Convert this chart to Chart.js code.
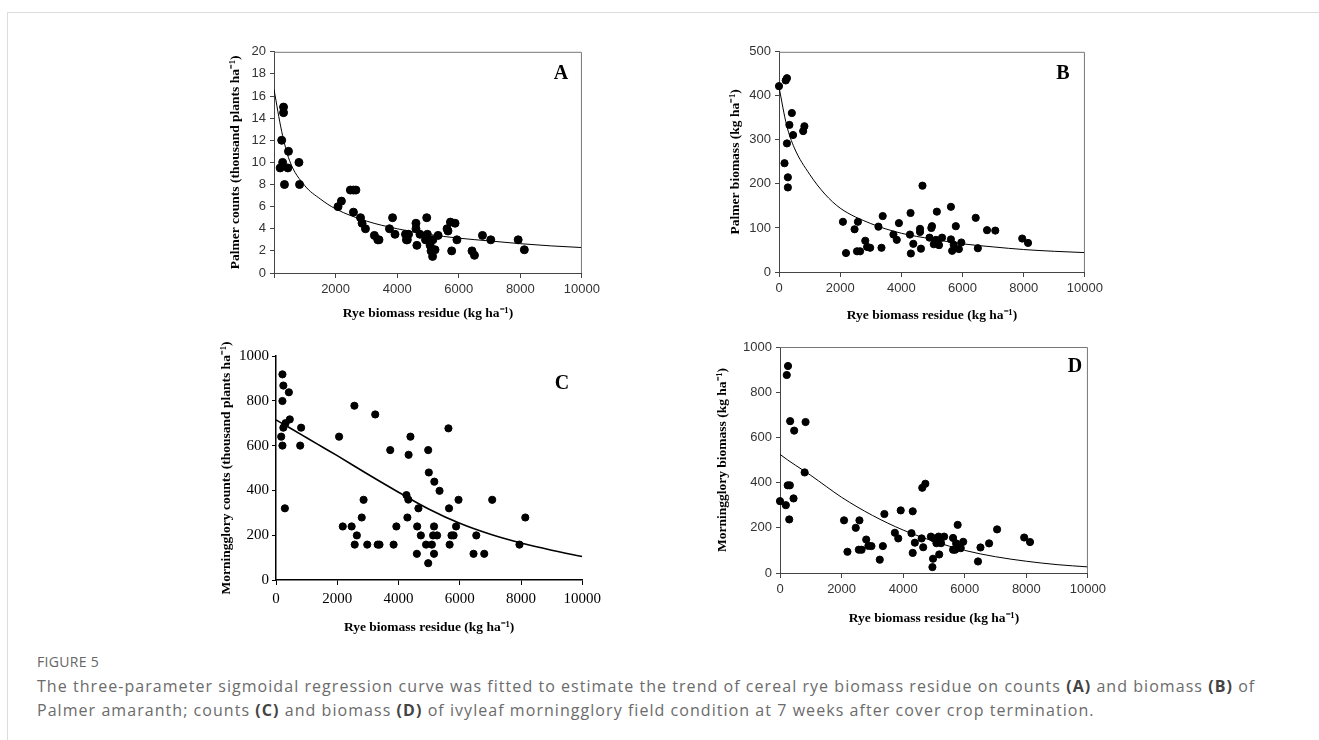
<!DOCTYPE html>
<html>
<head>
<meta charset="utf-8">
<script src="https://cdn.jsdelivr.net/npm/chart.js@4"></script>
<style>
  body { margin: 0; background: #fff; width: 1319px; height: 740px; overflow: hidden; position: relative; }
  .frame { position: absolute; left: 7px; top: 12px; width: 1400px; height: 800px; border: 1px solid #dcdcdc; }
  canvas { position: absolute; }
  .tag { position: absolute; font: bold 20px "Liberation Serif", "Times New Roman", serif; color: #000; transform: translate(-50%, -50%); }
  .fig { position: absolute; left: 37px; top: 652px; font: 14px "Open Sans", sans-serif; color: #666; letter-spacing: 0.3px; }
  .cap { position: absolute; left: 37px; top: 674px; font: 16px/24px "Open Sans", sans-serif; color: #6b6b6b; white-space: nowrap; letter-spacing: 1.05px; }
  .cap b { color: #444; }
</style>
</head>
<body>
<div class="frame"></div>
<canvas id="panelA" width="389" height="290" style="left:215px;top:40px"></canvas>
<canvas id="panelB" width="392" height="290" style="left:715px;top:40px"></canvas>
<canvas id="panelC" width="401" height="325" style="left:205px;top:320px"></canvas>
<canvas id="panelD" width="407" height="315" style="left:703px;top:320px"></canvas>
<div class="tag" style="left:561px;top:72px">A</div>
<div class="tag" style="left:1063px;top:72px">B</div>
<div class="tag" style="left:562px;top:382px">C</div>
<div class="tag" style="left:1075px;top:365px">D</div>
<div class="fig">FIGURE 5</div>
<div class="cap">The three-parameter sigmoidal regression curve was fitted to estimate the trend of cereal rye biomass residue on counts <b>(A)</b> and biomass <b>(B)</b> of<br>Palmer amaranth; counts <b>(C)</b> and biomass <b>(D)</b> of ivyleaf morningglory field condition at 7 weeks after cover crop termination.</div>
<script>
// observed plots: rye residue (kg/ha) vs weed response
var aRye = [200,250,280,310,310,340,450,470,810,830,2080,2190,2480,2580,2660,2580,2810,2860,2970,3260,3370,3410,3750,3850,3930,4270,4300,4330,4370,4610,4610,4640,4740,4920,4960,4980,5000,5070,5100,5150,5160,5230,5330,5620,5650,5730,5770,5880,5940,6430,6510,6770,7040,7930,8130];
var aCounts = [9.5,12,10,15,14.5,8,9.5,11,10,8,6,6.5,7.5,7.5,7.5,5.5,5,4.5,4,3.4,3,3,4,5,3.5,3.5,3,3,3.5,4.5,4,2.5,3.5,3,5,3.5,3,2.5,2,1.5,3,2.1,3.4,4,3.8,4.6,2,4.5,3,2,1.6,3.4,3,3,2.1];

var bRye = [0,220,260,420,340,460,260,180,290,290,790,830,2090,2190,2470,2580,2550,2650,2820,2880,2980,3250,3350,3390,3740,3850,3920,4280,4300,4310,4390,4610,4610,4640,4690,4920,4980,5000,5060,5130,5160,5190,5230,5330,5620,5620,5660,5710,5780,5880,5960,6430,6500,6800,7070,7950,8140];
var bBiomass = [422,435,440,361,334,311,292,247,215,192,320,331,114,43,97,114,47,47,71,57,55,103,55,127,85,73,111,85,134,42,64,98,91,53,196,78,100,104,63,73,137,67,61,78,148,74,48,62,104,52,67,123,54,95,94,76,66];

var cRye = [210,240,210,420,450,310,240,170,210,290,820,790,2060,2180,2470,2560,2570,2640,2800,2860,2980,3240,3320,3380,3730,3840,3930,4260,4290,4320,4330,4390,4600,4610,4650,4730,4900,4970,4970,4990,5090,5130,5160,5160,5170,5260,5340,5630,5650,5670,5730,5800,5880,5960,6450,6540,6800,7060,7950,8140];
var cCounts = [918,868,799,838,717,700,680,640,600,320,680,600,640,239,239,778,158,199,279,358,158,739,158,158,580,158,239,379,279,359,559,640,117,239,320,199,158,580,75,480,158,199,117,239,439,199,398,677,320,158,199,199,239,358,117,199,117,358,158,279];

var dRye = [0,190,220,260,250,320,300,330,440,460,800,830,2080,2190,2460,2580,2560,2650,2800,2870,2970,3240,3340,3390,3730,3840,3920,4270,4310,4310,4380,4600,4620,4720,4650,4900,4970,4950,5000,5080,5150,5170,5140,5230,5330,5620,5620,5690,5720,5770,5870,5950,6430,6510,6790,7050,7930,8120];
var dBiomass = [318,300,876,916,388,388,237,672,330,630,445,668,233,94,200,233,103,103,148,120,119,59,119,261,178,153,277,176,273,89,134,153,377,395,114,161,63,26,153,132,161,82,147,132,161,155,103,103,131,213,110,138,51,113,131,193,157,137];

// fitted curves
var curveRye = [0,250,500,1000,1500,2000,3000,4000,5000,6000,7000,8000,9000,10000];
var aFit = [16.6,12.8,10.2,7.9,6.7,5.8,4.7,4.0,3.5,3.15,2.9,2.65,2.45,2.3];
var bFit = [420,333,282,222,177,145,110,88,75,64,57,51,47,44];
var cFit = [715,695,675,635,595,555,472,392,316,253,204,165,133,105];
var dFit = [525,500,477,432,383,335,255,190,140,100,72,52,37,27];

var serif = '"Liberation Serif", "Times New Roman", serif';
var sans = '"Liberation Sans", Arial, sans-serif';

var boxLines = {
  id: 'boxLines',
  afterDatasetsDraw: function (chart, args, opts) {
    if (!opts.color) return;
    var a = chart.chartArea, ctx = chart.ctx;
    ctx.save();
    ctx.strokeStyle = opts.color;
    ctx.lineWidth = 1;
    ctx.beginPath();
    ctx.moveTo(a.left, a.top + 0.5);
    ctx.lineTo(a.right - 0.5, a.top + 0.5);
    ctx.lineTo(a.right - 0.5, a.bottom);
    ctx.stroke();
    ctx.restore();
  }
};

function pairs(xs, ys) {
  return xs.map(function (x, i) { return { x: x, y: ys[i] }; });
}

function makePanel(p) {
  return new Chart(document.getElementById(p.id), {
    type: 'scatter',
    data: {
      datasets: [{
        data: pairs(p.xs, p.ys),
        backgroundColor: '#000',
        borderColor: '#000',
        pointRadius: p.dot,
        clip: false
      }, {
        data: pairs(curveRye, p.fit),
        showLine: true,
        borderColor: '#000',
        borderWidth: p.lineW,
        pointRadius: 0,
        cubicInterpolationMode: 'monotone',
        fill: false
      }]
    },
    options: {
      responsive: false,
      animation: false,
      devicePixelRatio: 1,
      layout: { padding: { top: p.padTop, right: 10, left: 0, bottom: 0 } },
      plugins: { legend: { display: false }, tooltip: { enabled: false }, boxLines: { color: p.box } },
      scales: {
        x: {
          type: 'linear', min: 0, max: 10000,
          afterFit: function (s) { s.height = p.xH; },
          border: { display: true, color: p.axis, width: p.axisW },
          grid: { drawOnChartArea: false, drawTicks: true, tickLength: 5, color: p.axis },
          ticks: {
            stepSize: 2000, padding: p.xPad, color: p.tickColor,
            font: { family: p.tickFont, size: p.tickSize },
            callback: function (v) { return (p.hideZero && v === 0) ? '' : String(v); }
          },
          title: {
            display: true, text: 'Rye biomass residue (kg ha\u207B\u00B9)', color: '#000',
            font: { family: serif, size: 13.5, weight: 'bold', lineHeight: 1.2 },
            padding: { top: 0, bottom: p.xTitlePad }
          }
        },
        y: {
          min: 0, max: p.yMax,
          afterFit: function (s) { s.width = p.yW; },
          border: { display: true, color: p.axis, width: p.axisW },
          grid: { drawOnChartArea: false, drawTicks: true, tickLength: 4, color: p.axis },
          ticks: {
            stepSize: p.yStep, padding: p.yPad, color: p.tickColor,
            font: { family: p.tickFont, size: p.tickSize },
            callback: function (v) { return String(v); }
          },
          title: {
            display: true, text: p.yTitle, color: '#000',
            font: { family: serif, size: 13.5, weight: 'bold', lineHeight: 1.2 },
            padding: { top: p.yTitlePad, bottom: 0 }
          }
        }
      }
    },
    plugins: [boxLines]
  });
}

makePanel({ id: 'panelA', xs: aRye, ys: aCounts, fit: aFit, yMax: 20, yStep: 2,
  yTitle: 'Palmer counts (thousand plants ha\u207B\u00B9)', padTop: 10, yW: 59, xH: 57,
  yTitlePad: 12, xTitlePad: 8.6, xPad: 4, yPad: 4, tickFont: sans, tickSize: 13, tickColor: '#333',
  axis: '#444', axisW: 1, box: '#777', dot: 4, lineW: 1, hideZero: true });

makePanel({ id: 'panelB', xs: bRye, ys: bBiomass, fit: bFit, yMax: 500, yStep: 100,
  yTitle: 'Palmer biomass (kg ha\u207B\u00B9)', padTop: 10, yW: 64, xH: 58,
  yTitlePad: 12, xTitlePad: 6.6, xPad: 4, yPad: 4, tickFont: sans, tickSize: 13, tickColor: '#333',
  axis: '#444', axisW: 1, box: '#777', dot: 3.6, lineW: 1, hideZero: false });

makePanel({ id: 'panelC', xs: cRye, ys: cCounts, fit: cFit, yMax: 1000, yStep: 200,
  yTitle: 'Morningglory counts (thousand plants ha\u207B\u00B9)', padTop: 36, yW: 71, xH: 65,
  yTitlePad: 13.9, xTitlePad: 9.6, xPad: 5, yPad: 3, tickFont: serif, tickSize: 15, tickColor: '#000',
  axis: '#000', axisW: 1.5, box: null, dot: 3.6, lineW: 1.6, hideZero: false });

makePanel({ id: 'panelD', xs: dRye, ys: dBiomass, fit: dFit, yMax: 1000, yStep: 200,
  yTitle: 'Morningglory biomass (kg ha\u207B\u00B9)', padTop: 27, yW: 77, xH: 62,
  yTitlePad: 11.9, xTitlePad: 8.6, xPad: 4, yPad: 4, tickFont: sans, tickSize: 13, tickColor: '#333',
  axis: '#444', axisW: 1, box: '#777', dot: 3.6, lineW: 1, hideZero: false });
</script>
</body>
</html>
